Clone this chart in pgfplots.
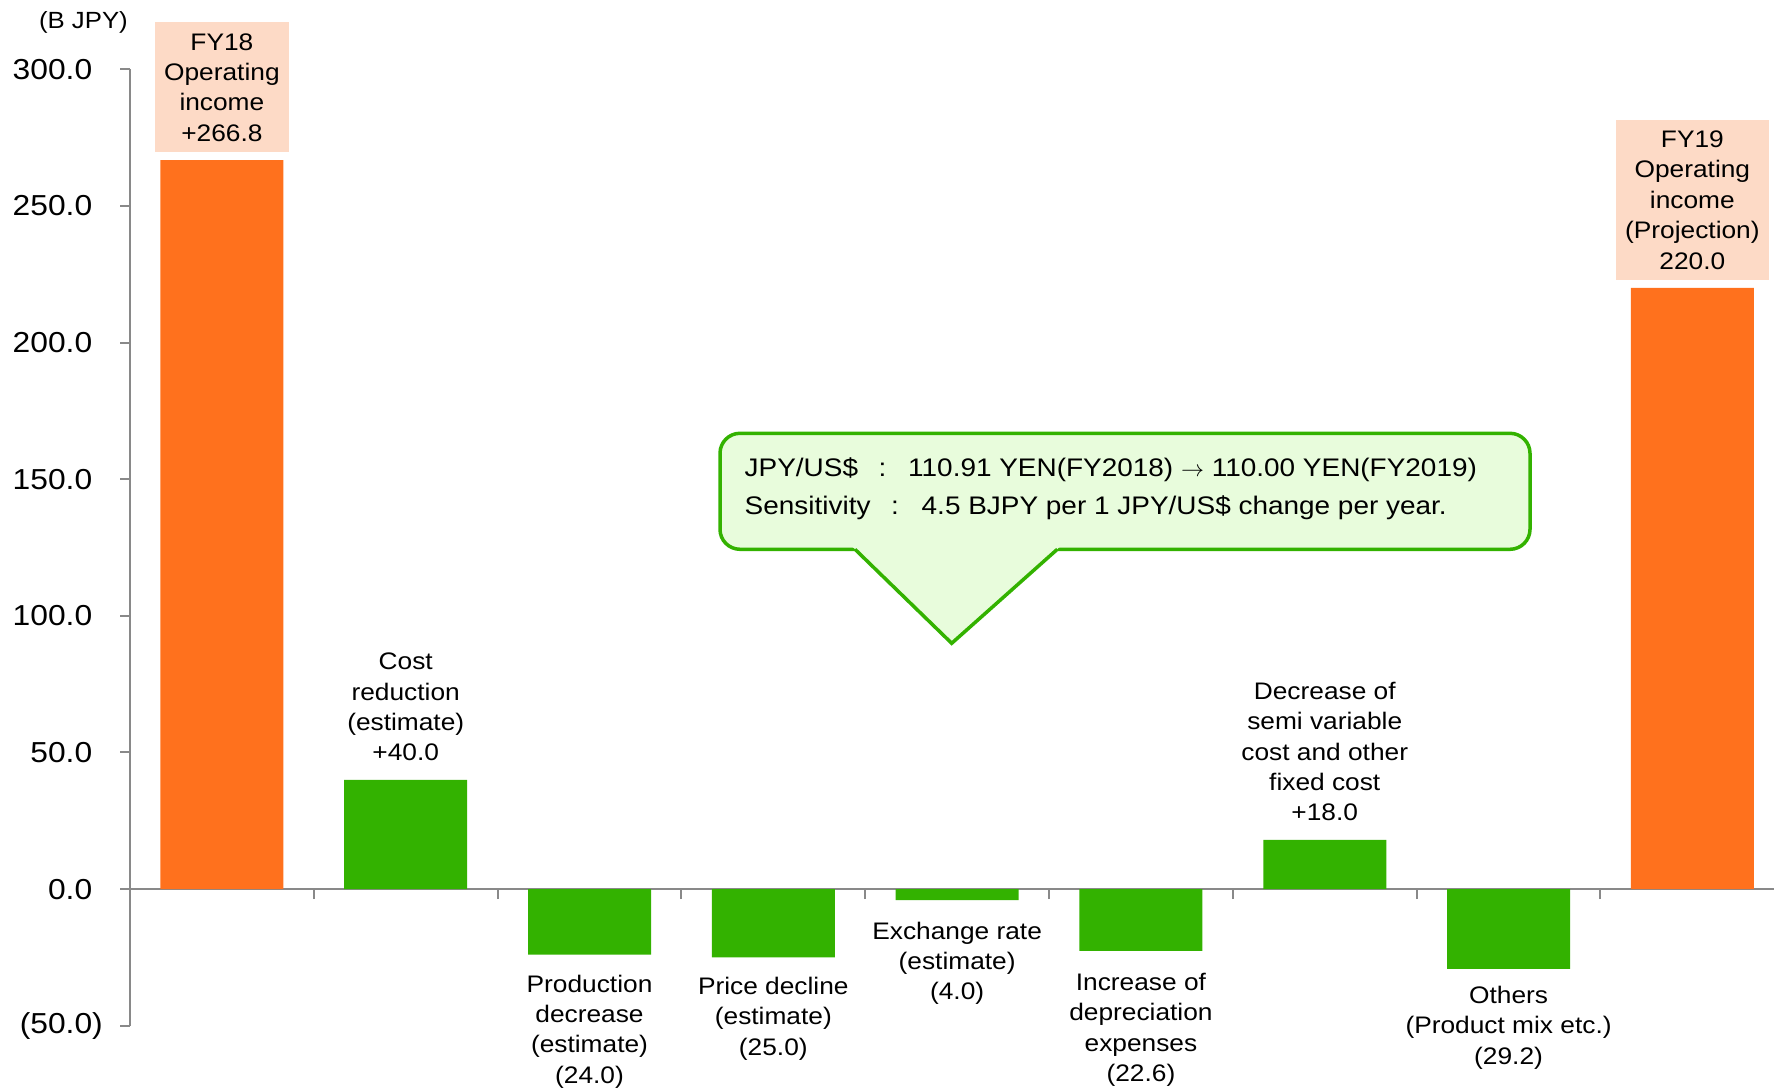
\documentclass[border=0pt]{standalone}
\usepackage{fontspec}
\setmainfont{Liberation Sans}[FakeStretch=1.1]
\usepackage{graphicx}
\usepackage{pgfplots}
\pgfplotsset{compat=1.18}

\definecolor{barorange}{RGB}{255,113,29}
\definecolor{bargreen}{RGB}{51,178,0}
\definecolor{boxpeach}{RGB}{253,218,198}
\definecolor{calloutfill}{RGB}{232,252,220}
\definecolor{axisgray}{RGB}{137,137,137}

\newcommand{\labelfont}{\fontsize{24}{30.5}\selectfont}
\newcommand{\tickfont}{\fontsize{29}{35}\selectfont}
\newcommand{\calloutfont}{\fontsize{25.5}{37}\selectfont}
% positive values keep room for the closing parenthesis of negatives
\newcommand{\pos}[1]{#1\hphantom{)}}
\newcommand{\thinarrow}{\resizebox{23bp}{!}{$\rightarrow$}}

\tikzset{
  lbl/.style={font=\labelfont, align=center, inner sep=0pt},
  peachbox/.style={fill=boxpeach, font=\labelfont, align=center,
                   inner xsep=9bp, inner ysep=11bp, anchor=south, yshift=7.5bp},
  ctext/.style={font=\calloutfont, inner sep=0pt},
}

\begin{document}
\begin{tikzpicture}[x=1bp,y=1bp]
\useasboundingbox (0,0) rectangle (1774,1090);
\begin{axis}[
  at={(130bp,64.3bp)}, anchor=south west,
  scale only axis, width=1644bp, height=956.3bp,
  xmin=-0.5, xmax=8.4445, ymin=-50, ymax=300,
  axis x line=middle, axis y line=left,
  axis line style={-, draw=axisgray, line width=2bp},
  tick style={draw=axisgray, line width=2bp},
  major tick length=10bp, tick align=outside,
  xtick={0.5,1.5,...,7.5}, xticklabels={},
  ytick={-50,0,50,100,150,200,250,300},
  yticklabels={(50.0),\pos{0.0},\pos{50.0},\pos{100.0},\pos{150.0},\pos{200.0},\pos{250.0},\pos{300.0}},
  hide obscured y ticks=false, hide obscured x ticks=false,
  yticklabel style={font=\tickfont, anchor=east, inner sep=0pt, xshift=-17bp},
  /pgf/number format/assume math mode=true,
  clip=false,
]
% operating income at both ends
\addplot[ybar, bar width=123bp, bar shift=0pt, fill=barorange, draw=none]
  coordinates {(0,266.8) (8,220.0)};
% year-on-year factors
\addplot[ybar, bar width=123bp, bar shift=0pt, fill=bargreen, draw=none]
  coordinates {(1,40.0) (2,-24.0) (3,-25.0) (4,-4.0) (5,-22.6) (6,18.0) (7,-29.2)};

\node[peachbox] at (axis cs:0,266.8) {FY18\\Operating\\income\\+266.8};
\node[peachbox] at (axis cs:8,220.0) {FY19\\Operating\\income\\(Projection)\\220.0};

\node[lbl, anchor=south, yshift=18.5bp] at (axis cs:1,40.0) {Cost\\reduction\\(estimate)\\+40.0};
\node[lbl, anchor=south, yshift=18.5bp] at (axis cs:6,18.0) {Decrease of\\semi variable\\cost and other\\fixed cost\\+18.0};

\node[lbl, anchor=north, yshift=-20bp] at (axis cs:2,-24.0) {Production\\decrease\\(estimate)\\(24.0)};
\node[lbl, anchor=north, yshift=-19.5bp] at (axis cs:3,-25.0) {Price decline\\(estimate)\\(25.0)};
\node[lbl, anchor=north, yshift=-21.5bp] at (axis cs:4,-4.0) {Exchange rate\\(estimate)\\(4.0)};
\node[lbl, anchor=north, yshift=-22bp] at (axis cs:5,-22.6) {Increase of\\depreciation\\expenses\\(22.6)};
\node[lbl, anchor=north, yshift=-17bp] at (axis cs:7,-29.2) {Others\\(Product mix etc.)\\(29.2)};

% unit label above the value axis
\node[font=\fontsize{23.5}{28}\selectfont, anchor=east, inner sep=0pt, xshift=-2bp, yshift=46.8bp]
  at (rel axis cs:0,1) {(B JPY)};
\end{axis}

% exchange-rate callout
\filldraw[draw=bargreen, fill=calloutfill, line width=3.5bp, rounded corners=20bp]
  (720,540.7) rectangle (1530,656.7);
\fill[calloutfill] (852.5,543.2) -- (951.7,446.7) -- (1059.8,543.2) -- cycle;
\draw[bargreen, line width=3.5bp, line join=miter]
  (855,540.7) -- (951.7,446.7) -- (1057.3,540.7);
% first line
\node[ctext, anchor=base west] at (744.5,613.3) {JPY/US\$};
\node[ctext, anchor=base] at (882.5,613.3) {:};
\node[ctext, anchor=base west] at (908,613.3)
  {110.91 YEN(FY2018) \thinarrow{} 110.00 YEN(FY2019)};
% second line
\node[ctext, anchor=base west] at (744.5,575.3) {Sensitivity};
\node[ctext, anchor=base] at (895,575.3) {:};
\node[ctext, anchor=base west] at (921.5,575.3)
  {4.5 BJPY per 1 JPY/US\$ change per year.};
\end{tikzpicture}
\end{document}
